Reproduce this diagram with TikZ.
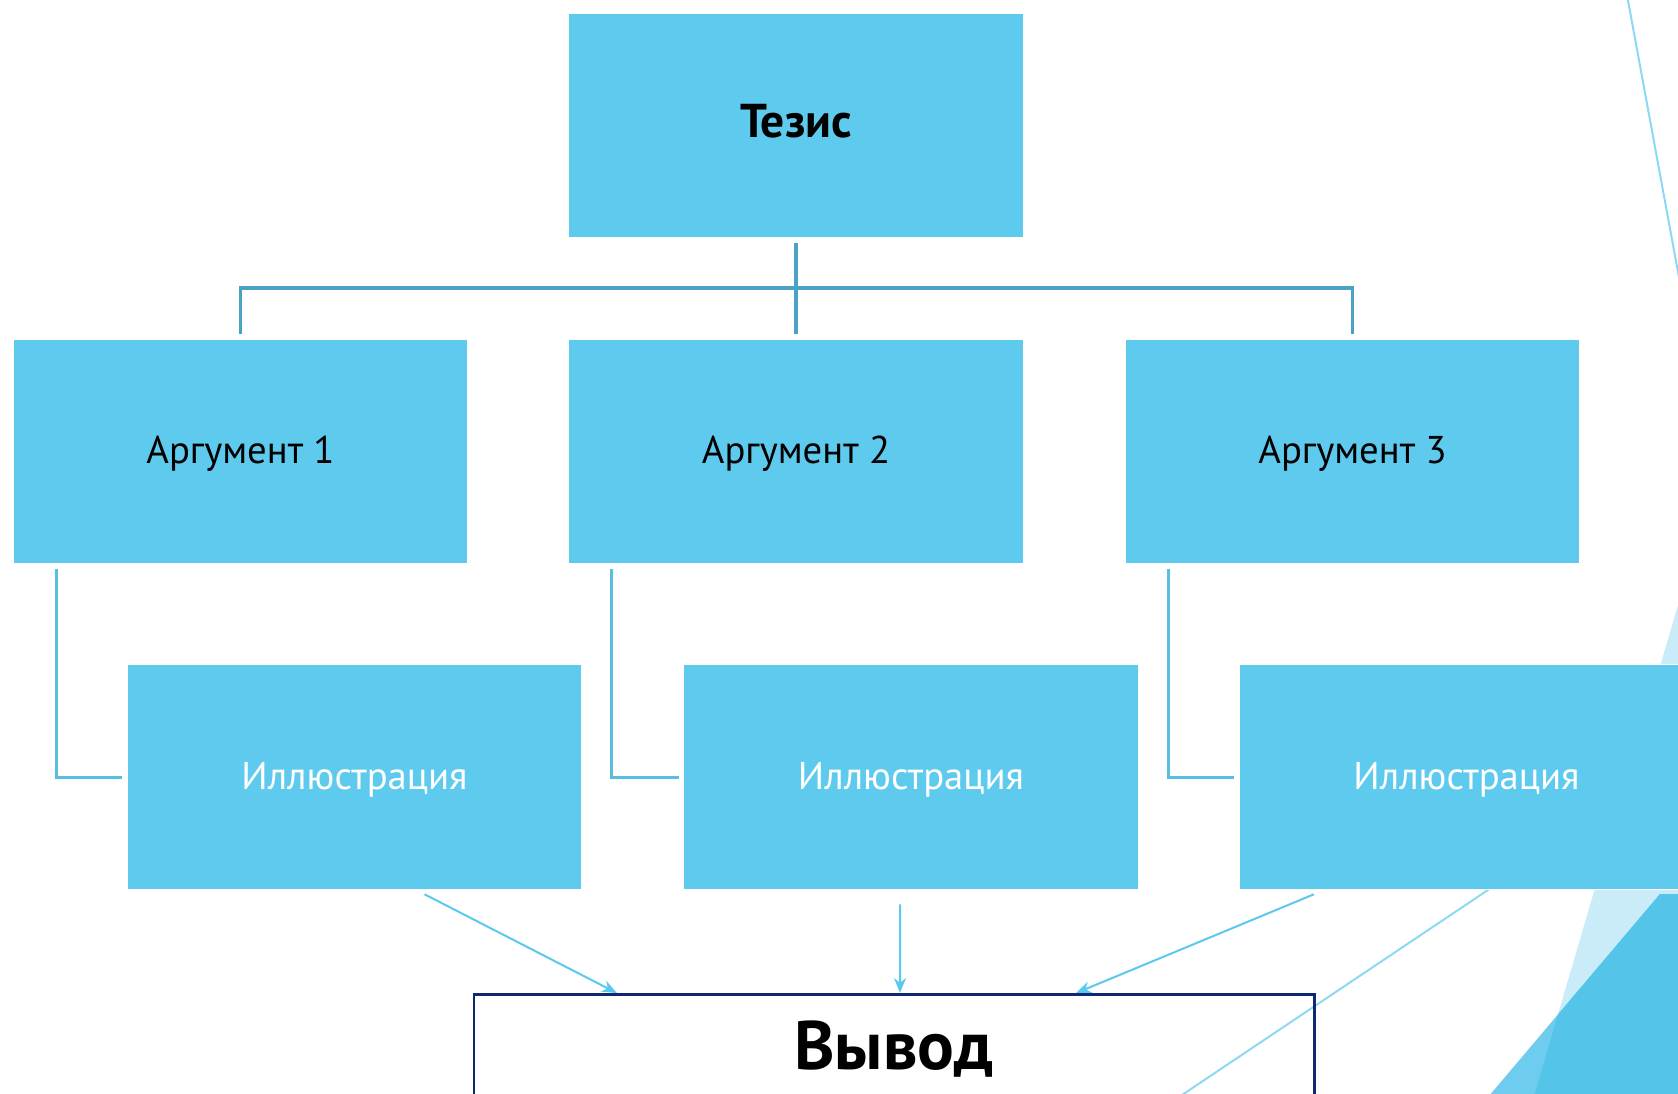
\documentclass[tikz,border=0pt]{standalone}
\usepackage{fontspec}
\setmainfont{PT Sans}
\usetikzlibrary{arrows.meta}
\definecolor{boxblue}{HTML}{5ECAEE}
\definecolor{treeline}{HTML}{4AA3C4}
\definecolor{sideline}{HTML}{59BFE0}
\definecolor{arrowblue}{HTML}{5BC8EE}
\definecolor{paleline}{HTML}{8DD9F3}
\definecolor{palefacet}{HTML}{C9ECF8}
\definecolor{midfacet}{HTML}{6ECDEE}
\definecolor{darkfacet}{HTML}{54C4E9}
\definecolor{navy}{HTML}{0F2870}

\begin{document}
\begin{tikzpicture}[x=.01cm,y=-.01cm,
  block/.style={fill=boxblue,draw=white,line width=.4pt,minimum width=4.55cm,minimum height=2.25cm,inner sep=0,text height=.7em,text depth=0pt,font=\fontsize{11}{13}\selectfont},
  illbox/.style={block,text=white},
  concl/.style={draw=navy,line width=.025cm,minimum width=8.4cm,inner sep=0,text height=.75cm,text depth=1.3cm,anchor=north,font=\fontsize{19.5}{22}\selectfont\bfseries},
  tree/.style={draw=treeline,line width=.035cm},
  bracket/.style={draw=sideline,line width=.03cm},
  toconcl/.style={draw=arrowblue,line width=.02cm,-{Stealth[length=.15cm,width=.12cm]}}]
  \useasboundingbox (0,0) rectangle (1678,1093);
  \clip (0,0) rectangle (1678,1093);

  \draw[paleline,line width=.02cm] (1627,-5) -- (1680,283);
  \fill[palefacet] (1678,605) -- (1532,1103) -- (1690,1103) -- (1690,605) -- cycle;
  \fill[midfacet] (1660,894) -- (1483,1103) -- (1690,1103) -- (1690,894) -- cycle;
  \begin{scope}
    \clip (1678,605) -- (1532,1103) -- (1690,1103) -- (1690,605) -- cycle;
    \fill[darkfacet] (1660,894) -- (1483,1103) -- (1690,1103) -- (1690,894) -- cycle;
  \end{scope}
  \draw[paleline,line width=.02cm] (1682,760) -- (1170,1103);

  \node[block,font=\fontsize{13.5}{16}\selectfont\bfseries] (thesis) at (796,125.5) {Тезис};
  \node[block] (arg1) at (240.5,451.5) {Аргумент 1};
  \node[block] (arg2) at (796,451.5) {Аргумент 2};
  \node[block] (arg3) at (1352.5,451.5) {Аргумент 3};
  \node[illbox] (ill1) at (354.5,777) {Иллюстрация};
  \node[illbox] (ill2) at (911,777) {Иллюстрация};
  \node[illbox] (ill3) at (1466.5,777) {Иллюстрация};
  \node[concl] (result) at (894,993) {Вывод};

  \coordinate (hub) at (796,288);
  \draw[tree,shorten <=.04cm,shorten >=.04cm] (thesis.south) -- (arg2.north);
  \draw[tree,shorten <=.04cm,shorten >=.04cm] (arg1.north) |- (hub) -| (arg3.north);

  \draw[bracket,shorten <=.04cm,shorten >=.04cm] ([xshift=-1.835cm]arg1.south) |- (ill1.west);
  \draw[bracket,shorten <=.04cm,shorten >=.04cm] ([xshift=-1.84cm]arg2.south) |- (ill2.west);
  \draw[bracket,shorten <=.04cm,shorten >=.04cm] ([xshift=-1.835cm]arg3.south) |- (ill3.west);

  \draw[toconcl] ([xshift=.7cm,yshift=-.04cm]ill1.south) -- ([xshift=-2.77cm]result.north);
  \draw[toconcl] ([xshift=-.11cm,yshift=-.14cm]ill2.south) -- ([xshift=.06cm]result.north);
  \draw[toconcl] ([xshift=-1.525cm,yshift=-.04cm]ill3.south) -- ([xshift=1.82cm]result.north);
\end{tikzpicture}
\end{document}
